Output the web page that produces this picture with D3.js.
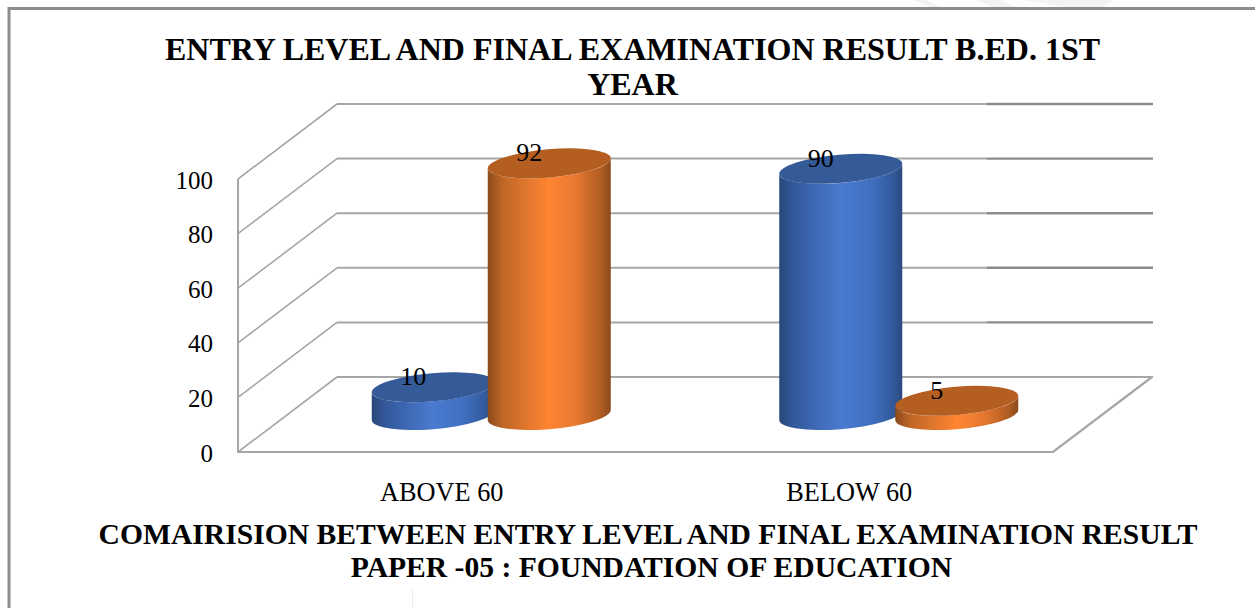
<!DOCTYPE html>
<html>
<head>
<meta charset="utf-8">
<script src="https://cdn.jsdelivr.net/npm/d3@7/dist/d3.min.js"></script>
<style>
html,body{margin:0;padding:0;background:#fff;overflow:hidden}
text{font-family:"Liberation Serif",serif;fill:#000}
</style>
</head>
<body>
<svg id="c" width="1255" height="608"></svg>
<script>
const categories = ["ABOVE 60", "BELOW 60"];
const seriesNames = ["Entry level", "Final examination"];
const entryValues = [10, 90];
const finalValues = [92, 5];
const yTicks = [0, 20, 40, 60, 80, 100];
const titleLines = ["ENTRY LEVEL AND FINAL EXAMINATION RESULT B.ED. 1ST", "YEAR"];
const axisTitleLines = ["COMAIRISION BETWEEN ENTRY LEVEL AND FINAL EXAMINATION RESULT", "PAPER -05 : FOUNDATION OF EDUCATION"];

const svg = d3.select("#c");
const defs = svg.append("defs");

const frontLeft = 238, frontRight = 1053, floorY = 452, depthX = 99, depthY = 75;
const y = d3.scaleLinear().domain([0, 100]).range([floorY, 179]);
const x0 = d3.scaleBand().domain(categories).range([frontLeft, frontRight]);
const x1 = d3.scaleBand().domain(seriesNames).range([-116, 116]);

// page watermark remnants
svg.append("g").attr("fill", "#f3f3f3").selectAll("path")
  .data(["M913 0H926L942 7H930Z", "M975 0H1000L1016 7H992Z", "M1024 0H1113L1103 7H1062Z"])
  .join("path").attr("d", d => d);
svg.append("line").attr("x1", 412.5).attr("x2", 412.5).attr("y1", 590).attr("y2", 608)
  .attr("stroke", "#ececec").attr("stroke-width", 1);

// frame
svg.append("path").attr("d", "M9 608V8.5H1255").attr("fill", "none").attr("stroke", "#8c8c8c").attr("stroke-width", 3);

// walls
const g = svg.append("g").attr("fill", "none");
const lightGrid = "#a6a6a6", darkGrid = "#8c8c8c";
yTicks.forEach(t => {
  const yf = y(t), yb = yf - depthY;
  g.append("line").attr("x1", frontLeft).attr("y1", yf).attr("x2", frontLeft + depthX).attr("y2", yb)
    .attr("stroke", lightGrid).attr("stroke-width", 1.6);
  g.append("line").attr("x1", frontLeft + depthX).attr("y1", yb).attr("x2", 987).attr("y2", yb)
    .attr("stroke", lightGrid).attr("stroke-width", 2);
  g.append("line").attr("x1", 987).attr("y1", yb).attr("x2", frontRight + depthX + 1).attr("y2", yb)
    .attr("stroke", t === 0 ? lightGrid : darkGrid).attr("stroke-width", t === 0 ? 2 : 2.4);
});
g.append("line").attr("x1", frontLeft).attr("y1", y(100)).attr("x2", frontLeft).attr("y2", floorY + 1)
  .attr("stroke", lightGrid).attr("stroke-width", 2);
g.append("path").attr("d", `M${frontLeft} ${floorY}H${frontRight}L${frontRight + depthX} ${floorY - depthY}`)
  .attr("stroke", lightGrid).attr("stroke-width", 2.2);

// y tick labels
svg.append("g").selectAll("text").data(yTicks).join("text")
  .attr("x", 213).attr("y", d => y(d) + 9.5).attr("text-anchor", "end")
  .attr("font-size", 25).text(d => d);

// x labels
svg.append("g").selectAll("text").data(categories).join("text")
  .attr("x", d => x0(d) + x0.bandwidth() / 2).attr("y", 501).attr("text-anchor", "middle")
  .attr("font-size", 26.3).text(d => d);

// gradients
function gradient(id, stops) {
  const lg = defs.append("linearGradient").attr("id", id);
  stops.forEach(s => lg.append("stop").attr("offset", s[0]).attr("stop-color", s[1]));
}
gradient("gBlue", [[0, "#28477a"], [0.12, "#33599b"], [0.5, "#4a7bd0"], [0.75, "#406fc0"], [0.92, "#335a9c"], [1, "#2a4a7e"]]);
gradient("gOrange", [[0, "#8a4a1c"], [0.12, "#bf6626"], [0.5, "#ff8533"], [0.72, "#e67830"], [0.92, "#b05c22"], [1, "#8a4a1c"]]);

// cylinders
const rx = 61.7, ry = 14.1, tilt = -4.9, halfW = 61.5, endDy = 5;
const series = [
  { name: seriesNames[0], values: entryValues, fill: "url(#gBlue)", top: "#345a98" },
  { name: seriesNames[1], values: finalValues, fill: "url(#gOrange)", top: "#b55e22" }
];
const bars = [];
categories.forEach((c, i) => series.forEach(s => bars.push({ cat: c, s, v: s.values[i] })));
const baseOffset = 37.5;
const cyl = svg.append("g").selectAll("g").data(bars).join("g");
const cx = d => x0(d.cat) + x0.bandwidth() / 2 + depthX / 2 + x1(d.s.name) + x1.bandwidth() / 2;
const by = () => y(0) - baseOffset + 0.5;
const ty = d => y(d.v) - baseOffset;
cyl.append("path")
  .attr("fill", d => d.s.fill)
  .attr("d", d => {
    const X = cx(d), B = by(), T = ty(d);
    return `M${X - halfW} ${T + endDy}L${X - halfW} ${B + endDy}` +
      `A${rx} ${ry} ${tilt} 0 0 ${X + halfW} ${B - endDy}` +
      `L${X + halfW} ${T - endDy}` +
      `A${rx} ${ry} ${tilt} 0 1 ${X - halfW} ${T + endDy}Z`;
  });
cyl.append("ellipse")
  .attr("rx", rx).attr("ry", ry)
  .attr("transform", d => `translate(${cx(d)},${ty(d)}) rotate(${tilt})`)
  .attr("fill", d => d.s.top);
cyl.append("text")
  .attr("x", d => cx(d) - 20).attr("y", d => ty(d) - 2)
  .attr("text-anchor", "middle").attr("font-size", 26)
  .text(d => d.v);

// titles
svg.append("g").selectAll("text").data(titleLines).join("text")
  .attr("x", 632.5).attr("y", (d, i) => 60 + i * 35).attr("text-anchor", "middle")
  .attr("font-size", 32).attr("font-weight", "bold").text(d => d);
svg.append("g").selectAll("text").data(axisTitleLines).join("text")
  .attr("x", (d, i) => i === 0 ? 648 : 651.5).attr("y", (d, i) => 544 + i * 33).attr("text-anchor", "middle")
  .attr("font-size", 29.6).attr("font-weight", "bold").text(d => d);
</script>
</body>
</html>
